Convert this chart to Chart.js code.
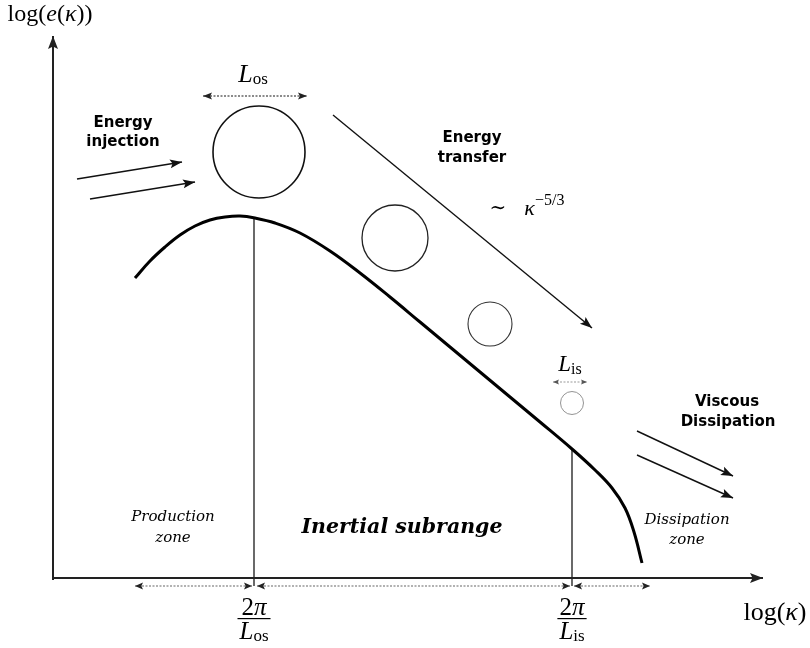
<!DOCTYPE html>
<html>
<head>
<meta charset="utf-8">
<script src="https://cdn.jsdelivr.net/npm/chart.js@4.4.1/dist/chart.umd.min.js"></script>
<style>html,body{margin:0;padding:0;background:#fff}</style>
</head>
<body>
<canvas id="c" width="810" height="648"></canvas>
<script>
// schematic energy spectrum: x = log(kappa), y = log(e(kappa)), arbitrary units
var spectrumK = [82, 97, 112, 127, 142, 157, 172, 187, 202, 222, 247, 277, 307, 337, 367, 397, 427, 457, 487, 519, 542, 559, 572, 581, 589];
var spectrumE = [300, 317, 331, 343, 352, 358, 361, 362, 360, 355, 345, 327, 305, 281, 256, 231, 206, 181, 156, 129, 108, 90, 70, 46, 15];

// wavenumbers 2pi/L_os and 2pi/L_is and spectrum level there
var markK = [201, 519];
var markE = [360, 129];

// eddies (circles) from large to small
var eddyK = [206, 342, 437, 519];
var eddyE = [426, 340, 254, 175];

// zone extents below the k axis
var zoneFrom = [82, 204, 521];
var zoneTo   = [199, 517, 597];
var zoneLevel = -8;

// arrows [k0, e0, k1, e1]
var injectArrows = [[24, 399, 129, 416], [37, 379, 142, 396]];
var transferArrow = [280, 463, 539, 250];
var dissipArrows = [[584, 147, 680, 102], [584, 123, 680, 80]];
var sizeArrows = [[150, 482, 254, 482], [500, 196, 534, 196]];

var kAxisEnd = 710, eAxisEnd = 542;

var MATH = '"Liberation Serif", "DejaVu Serif", serif';

function seg(x0, y0, x1, y1, opt) {
	var ds = {
		data: [{x: x0, y: y0}, {x: x1, y: y1}],
		borderColor: '#111', borderWidth: 1.5, pointRadius: 0, tension: 0,
		fill: false
	};
	for (var k in opt) ds[k] = opt[k];
	return ds;
}

var datasets = [];

// axes
datasets.push(seg(0, -2, 0, eAxisEnd, {borderColor: '#222', borderWidth: 2, head: 'end', headLen: 13, headW: 5}));
datasets.push(seg(0, 0, kAxisEnd, 0, {borderColor: '#222', borderWidth: 2, head: 'end', headLen: 13, headW: 5}));

// spectrum
datasets.push({
	data: spectrumK.map(function(k, i) { return {x: k, y: spectrumE[i]}; }),
	borderColor: '#000', borderWidth: 3, pointRadius: 0, tension: 0.4,
	fill: false
});

// vertical markers
markK.forEach(function(k, i) {
	datasets.push(seg(k, zoneLevel, k, markE[i], {borderColor: '#444', borderWidth: 1.6}));
});

// zone extents
zoneFrom.forEach(function(k, i) {
	datasets.push(seg(k, zoneLevel, zoneTo[i], zoneLevel, {
		borderColor: '#666', borderWidth: 1.2, borderDash: [2, 1.5],
		head: 'both', headLen: 8, headW: 3.5, headColor: '#222'
	}));
});

// eddy size arrows
sizeArrows.forEach(function(a, i) {
	datasets.push(seg(a[0], a[1], a[2], a[3], {
		borderColor: i ? '#999' : '#666', borderWidth: i ? 1 : 1.3, borderDash: [2, 1.5],
		head: 'both', headLen: i ? 6 : 9, headW: i ? 2.5 : 3.5, headColor: i ? '#555' : '#222'
	}));
});

// flux arrows
injectArrows.concat([transferArrow], dissipArrows).forEach(function(a) {
	datasets.push(seg(a[0], a[1], a[2], a[3], {borderColor: '#111', borderWidth: 1.4, head: 'end', headLen: 12, headW: 4.5}));
});

// eddies
datasets.push({
	data: eddyK.map(function(k, i) { return {x: k, y: eddyE[i]}; }),
	showLine: false,
	pointRadius: [46, 33, 22, 11.5],
	pointBorderWidth: [1.6, 1.3, 1.1, 0.9],
	pointBorderColor: ['#111', '#222', '#333', '#888'],
	pointBackgroundColor: 'rgba(0,0,0,0)',
	borderColor: 'rgba(0,0,0,0)'
});

function sub(t, s) { return {t: t, f: (s || 17) + 'px ' + MATH, dy: 5}; }
function it(t, s) { return {t: t, f: 'italic ' + (s || 25) + 'px ' + MATH}; }
function rm(t, s) { return {t: t, f: (s || 25) + 'px ' + MATH}; }

var SANS = 'bold 15px "DejaVu Sans", sans-serif';
var ZONE = 'italic 15px "DejaVu Serif", serif';

var labels = [
	{x: -3, y: 563, runs: [rm('log(', 24), it('e', 24), rm('(', 24), it('κ', 24), rm('))', 24)]},
	{x: 722, y: -35, runs: [rm('log(', 26), it('κ', 26), rm(')', 26)]},
	{x: 200, y: 503, runs: [it('L', 26), sub('os')]},
	{x: 517, y: 213, runs: [it('L', 23), sub('is', 16)]},
	{x: 70, y: 455, runs: [{t: 'Energy', f: SANS}]},
	{x: 70, y: 436, runs: [{t: 'injection', f: SANS}]},
	{x: 419, y: 440, runs: [{t: 'Energy', f: SANS}]},
	{x: 419, y: 420, runs: [{t: 'transfer', f: SANS}]},
	{x: 674, y: 176, runs: [{t: 'Viscous', f: SANS}]},
	{x: 675, y: 156, runs: [{t: 'Dissipation', f: SANS}]},
	{x: 120, y: 61, runs: [{t: 'Production', f: ZONE}]},
	{x: 120, y: 40, runs: [{t: 'zone', f: ZONE}]},
	{x: 634, y: 58, runs: [{t: 'Dissipation', f: ZONE}]},
	{x: 634, y: 38, runs: [{t: 'zone', f: ZONE}]},
	{x: 349, y: 50, runs: [{t: 'Inertial subrange', f: 'bold italic 20.5px "DejaVu Serif", serif'}]},
	{x: 474, y: 369, runs: [rm('∼', 20), {t: '', f: '19px ' + MATH, gap: 18}, it('κ', 22), {t: '−5/3', f: '16px ' + MATH, dy: -8}]}
];

var fractions = [
	{x: markK[0], num: [rm('2'), it('π')], den: [it('L'), sub('os')]},
	{x: markK[1], num: [rm('2'), it('π')], den: [it('L'), sub('is')]}
];

function runsWidth(ctx, runs) {
	var w = 0;
	runs.forEach(function(r) { ctx.font = r.f; r.w = ctx.measureText(r.t).width; w += r.w + (r.gap || 0); });
	return w;
}

function drawRuns(ctx, x, y, runs) {
	var w = runsWidth(ctx, runs);
	var cx = x - w / 2;
	runs.forEach(function(r) {
		ctx.font = r.f;
		cx += (r.gap || 0);
		ctx.fillText(r.t, cx, y + (r.dy || 0));
		cx += r.w;
	});
	return w;
}

var arrowHeads = {
	id: 'arrowHeads',
	afterDatasetsDraw: function(chart) {
		var ctx = chart.ctx;
		chart.data.datasets.forEach(function(ds, i) {
			if (!ds.head) return;
			var pts = chart.getDatasetMeta(i).data;
			var a = pts[0], b = pts[pts.length - 1];
			var draw = function(p, q) {
				var ang = Math.atan2(p.y - q.y, p.x - q.x);
				var L = ds.headLen, W = ds.headW;
				ctx.save();
				ctx.fillStyle = ds.headColor || ds.borderColor;
				ctx.translate(p.x, p.y);
				ctx.rotate(ang);
				ctx.beginPath();
				ctx.moveTo(0, 0);
				ctx.lineTo(-L, -W);
				ctx.lineTo(-L * 0.8, 0);
				ctx.lineTo(-L, W);
				ctx.closePath();
				ctx.fill();
				ctx.restore();
			};
			draw(b, a);
			if (ds.head === 'both') draw(a, b);
		});
	}
};

var texts = {
	id: 'texts',
	afterDraw: function(chart) {
		var ctx = chart.ctx, sx = chart.scales.x, sy = chart.scales.y;
		ctx.save();
		ctx.fillStyle = '#000';
		ctx.textAlign = 'left';
		ctx.textBaseline = 'middle';
		labels.forEach(function(l) {
			drawRuns(ctx, sx.getPixelForValue(l.x), sy.getPixelForValue(l.y), l.runs);
		});
		fractions.forEach(function(f) {
			var px = sx.getPixelForValue(f.x);
			var base = sy.getPixelForValue(0);
			var w1 = drawRuns(ctx, px, base + 30, f.num);
			var w2 = drawRuns(ctx, px, base + 54, f.den);
			var w = Math.max(w1, w2) + 4;
			ctx.fillRect(px - w / 2, base + 40, w, 1.2);
		});
		ctx.restore();
	}
};

new Chart(document.getElementById('c'), {
	type: 'line',
	data: {datasets: datasets},
	options: {
		responsive: false,
		animation: false,
		events: [],
		devicePixelRatio: 1,
		layout: {padding: 0, autoPadding: false},
		plugins: {legend: {display: false}, tooltip: {enabled: false}},
		scales: {
			x: {type: 'linear', min: -53, max: 757, display: false},
			y: {type: 'linear', min: -70, max: 578, display: false}
		}
	},
	plugins: [arrowHeads, texts]
});
</script>
</body>
</html>
